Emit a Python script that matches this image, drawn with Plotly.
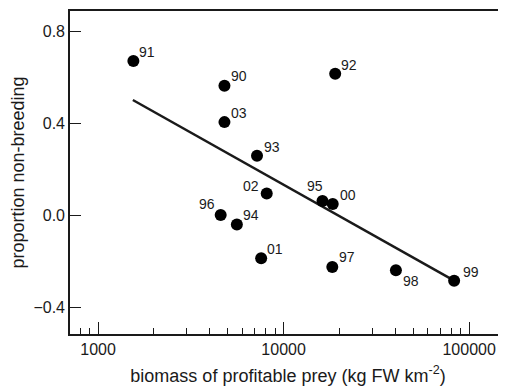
import numpy as np
import plotly.graph_objects as go

# data
years = ["91", "90", "03", "93", "92", "02", "96", "94", "01", "95", "00", "97", "98", "99"]
biomass = [1550, 4800, 4800, 7190, 18970, 8110, 4580, 5600, 7570, 16200, 18400, 18300, 40300, 83000]
prop_nonbreeding = [0.670, 0.562, 0.404, 0.258, 0.614, 0.094, 0.000, -0.041, -0.188, 0.061, 0.048, -0.226, -0.240, -0.286]
fit_x = [1540, 83000]
fit_y = [0.500, -0.285]
x_tickvals = [1000, 10000, 100000]
x_ticktext = ["1000", "10000", "100000"]
y_tickvals = [-0.4, 0.0, 0.4, 0.8]
y_ticktext = ["\u22120.4", "0.0", "0.4", "0.8"]

# label offsets (pixels) - style
label_shift = {
    "91": (14, 9), "90": (15, 10), "03": (15, 9), "93": (15, 9), "92": (14, 9),
    "02": (-16, 7), "96": (-14, 11), "94": (14, 9), "01": (14, 9), "95": (-7, 15),
    "00": (15, 9), "97": (15, 10), "98": (15, -11), "99": (17, 9),
}

FONT = "Liberation Sans, Arial, Helvetica, sans-serif"
INK = "#1a1a1a"

fig = go.Figure()
fig.add_trace(go.Scatter(x=fit_x, y=fit_y, mode="lines",
                         line=dict(color=INK, width=2.5), hoverinfo="skip", showlegend=False))
fig.add_trace(go.Scatter(x=biomass, y=prop_nonbreeding, mode="markers",
                         marker=dict(color="#000000", size=12), showlegend=False))

for yr, xv, yv in zip(years, biomass, prop_nonbreeding):
    dx, dy = label_shift[yr]
    fig.add_annotation(x=np.log10(xv), y=yv, text=yr, showarrow=False,
                       xshift=dx, yshift=dy, font=dict(family=FONT, size=14, color=INK))

minor_vals = [800, 900] + [k * 1000 for k in range(2, 10)] + [k * 10000 for k in range(2, 10)]

# page has an 8px body margin, so the figure is sized/offset to compensate
fig.update_layout(
    width=506, height=378,
    margin=dict(l=62, r=8, t=3, b=52),
    paper_bgcolor="white", plot_bgcolor="white",
    font=dict(family=FONT, color=INK),
    xaxis=dict(
        type="log", range=[np.log10(706), np.log10(158000)],
        automargin=False,
        tickvals=x_tickvals, ticktext=x_ticktext,
        ticks="inside", ticklen=12, tickwidth=1.3, tickcolor=INK,
        minor=dict(ticks="inside", ticklen=6, tickwidth=1.3, tickcolor=INK, tickvals=minor_vals, showgrid=False),
        showline=True, linecolor=INK, linewidth=1.6, mirror=True,
        showgrid=False, zeroline=False,
        tickfont=dict(size=16, color=INK),
        title=dict(text="biomass of profitable prey (kg FW km<sup>-2</sup>)", font=dict(size=18, color=INK)),
    ),
    yaxis=dict(
        range=[-0.517, 0.887],
        automargin=False,
        tickvals=y_tickvals, ticktext=y_ticktext,
        ticks="inside", ticklen=11, tickwidth=1.3, tickcolor=INK,
        showline=True, linecolor=INK, linewidth=1.6,
        showgrid=False, zeroline=False,
        tickfont=dict(size=16, color=INK),
        title=dict(text="proportion non-breeding", font=dict(size=18, color=INK)),
    ),
)

fig.write_html("out.html")
